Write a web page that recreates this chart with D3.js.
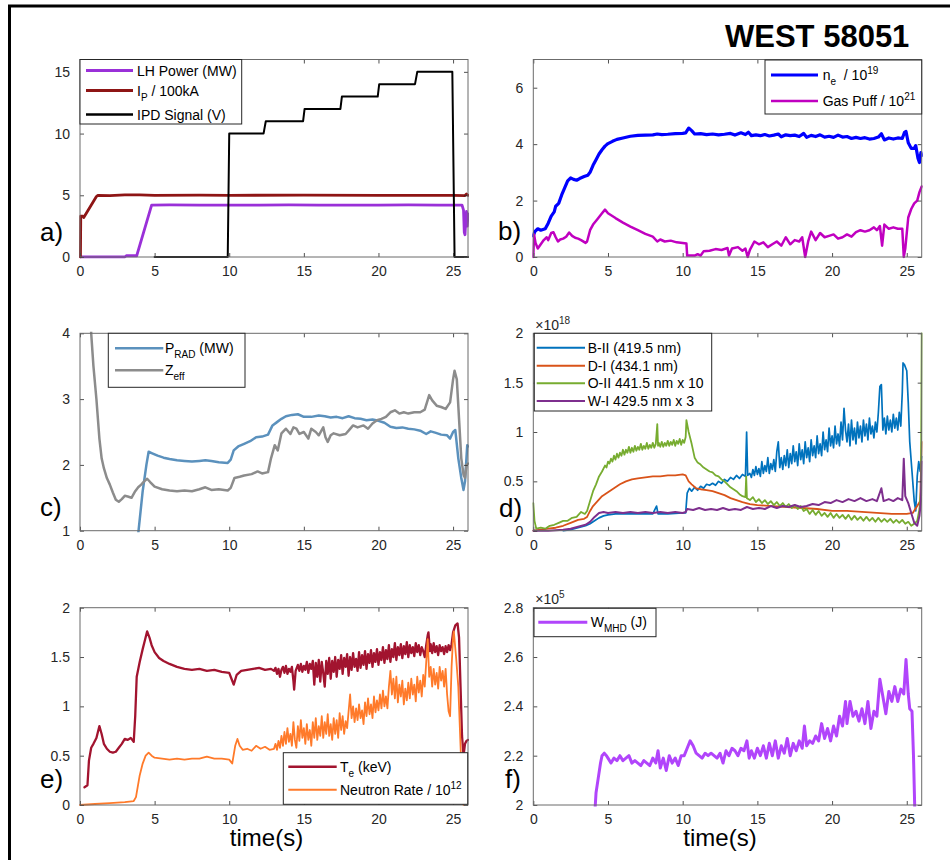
<!DOCTYPE html>
<html><head><meta charset="utf-8">
<script src="https://cdn.jsdelivr.net/npm/d3@7"></script>
<style>
body{margin:0;background:#fff}
svg{display:block}
text{font-family:"Liberation Sans",Arial,sans-serif;white-space:pre}
</style>
</head><body>
<svg id="c" width="950" height="860"></svg>
<script>
// ---------------- DATA (time s, value) ----------------
const timeTicks = [0,5,10,15,20,25];

// a) LH power (MW), Ip/100kA, IPD signal (V)
const lhPower = [[0.05,0],[3.0,0],[3.1,0.1],[3.8,0.1],[4.8,4.2],[6,4.22],[8,4.2],[10,4.21],[12,4.2],[14,4.22],[16,4.2],[18,4.21],[20,4.2],[22,4.22],[24,4.2],[25.6,4.2],[25.7,3.8],[25.75,2.0],[25.8,1.8],[25.85,3.0],[25.9,3.7],[25.95,2.5],[26.0,3.5]];
const ipCurrent = [[0.03,0],[0.05,3.3],[0.2,3.3],[0.25,3.2],[1.1,4.9],[1.2,5.0],[2,4.98],[3,5.03],[4,5.04],[5,5.0],[8,5.02],[10,5.0],[15,5.01],[20,5.0],[25,5.0],[25.8,4.98],[25.9,5.1],[26,5.0]];
const ipdSignal = [[5.0,0],[9.9,0],[10.0,10],[12.3,10],[12.45,11],[14.95,11],[15.05,12],[17.45,12],[17.55,13],[19.95,13],[20.05,14],[22.45,14],[22.6,15],[24.95,15],[25.1,0],[26,0]];

// b) ne/1e19, gas puff/1e21
const neDensity = [[0,0.75],[0.1,0.9],[0.3,1.0],[0.5,0.95],[0.8,1.0],[1.0,1.2],[1.2,1.45],[1.4,1.6],[1.5,1.8],[1.7,1.9],[1.9,2.2],[2.1,2.45],[2.3,2.7],[2.5,2.8],[2.7,2.75],[2.9,2.72],[3.1,2.78],[3.4,2.85],[3.65,2.9],[3.8,3.0],[4.0,3.25],[4.2,3.45],[4.4,3.65],[4.6,3.8],[4.8,3.93],[5.0,4.02],[5.3,4.1],[5.6,4.17],[6.0,4.22],[6.5,4.28],[7.0,4.31],[7.5,4.32],[8.0,4.33],[8.3,4.36],[8.6,4.34],[9.0,4.35],[9.5,4.37],[10.0,4.38],[10.2,4.4],[10.4,4.57],[10.6,4.48],[10.8,4.36],[11.2,4.37],[11.6,4.34],[12.0,4.36],[12.4,4.33],[12.8,4.35],[13.2,4.38],[13.5,4.32],[13.9,4.4],[14.2,4.34],[14.4,4.42],[14.6,4.3],[14.9,4.33],[15.2,4.3],[15.5,4.34],[15.8,4.29],[16.1,4.32],[16.4,4.36],[16.6,4.26],[16.9,4.33],[17.2,4.3],[17.5,4.32],[17.8,4.27],[18.1,4.38],[18.3,4.24],[18.6,4.31],[18.9,4.27],[19.2,4.33],[19.5,4.25],[19.8,4.28],[20.1,4.24],[20.4,4.32],[20.7,4.25],[21.0,4.27],[21.3,4.2],[21.6,4.24],[21.9,4.2],[22.2,4.23],[22.5,4.18],[22.8,4.2],[23.1,4.25],[23.3,4.37],[23.5,4.15],[23.8,4.22],[24.1,4.18],[24.4,4.22],[24.7,4.2],[24.85,4.42],[24.95,4.45],[25.1,4.05],[25.3,3.85],[25.5,3.85],[25.6,3.95],[25.75,3.5],[25.85,3.35],[25.95,3.7],[26,3.6]];
const gasPuff = [[0,0],[0.05,0.8],[0.15,0.5],[0.3,0.3],[0.5,0.45],[0.7,0.6],[0.9,0.7],[1.0,0.6],[1.2,0.85],[1.35,0.88],[1.5,0.7],[1.65,0.55],[1.8,0.62],[2.0,0.65],[2.2,0.72],[2.4,0.87],[2.6,0.75],[2.8,0.68],[3.0,0.65],[3.2,0.6],[3.5,0.5],[3.6,0.55],[3.8,0.95],[4.0,1.15],[4.3,1.35],[4.6,1.55],[4.8,1.68],[5.0,1.55],[5.5,1.38],[6.0,1.22],[6.5,1.08],[7.0,0.95],[7.5,0.82],[8.0,0.72],[8.3,0.55],[8.5,0.62],[8.8,0.55],[9.2,0.58],[9.6,0.52],[10.0,0.5],[10.25,0.48],[10.3,0.05],[10.8,0.05],[11.0,0.1],[11.2,0.05],[11.4,0.2],[11.8,0.22],[12.2,0.28],[12.6,0.25],[13.0,0.32],[13.1,0.05],[13.3,0.3],[13.7,0.35],[14.0,0.22],[14.2,0.3],[14.35,0.0],[14.5,0.25],[14.8,0.55],[15.1,0.45],[15.4,0.52],[15.7,0.35],[16.0,0.45],[16.3,0.55],[16.6,0.4],[16.9,0.7],[17.2,0.45],[17.5,0.6],[17.8,0.55],[18.0,0.7],[18.2,0.0],[18.4,0.55],[18.6,0.9],[18.9,0.6],[19.2,0.85],[19.5,0.7],[19.8,0.75],[20.1,0.8],[20.4,0.65],[20.7,0.7],[21.0,0.8],[21.3,0.72],[21.6,0.88],[21.9,0.95],[22.2,0.9],[22.5,0.95],[22.8,1.05],[23.0,0.95],[23.2,1.1],[23.35,0.4],[23.5,1.15],[23.8,1.0],[24.1,1.05],[24.4,1.0],[24.7,1.0],[24.8,0.0],[24.9,0.3],[25.1,1.4],[25.3,1.7],[25.5,1.9],[25.7,2.0],[25.85,2.3],[26,2.5]];

// c) Prad (MW), Zeff
const pRad = [[3.9,0.95],[4.2,1.6],[4.45,2.0],[4.6,2.2],[4.8,2.18],[5.2,2.14],[5.6,2.11],[6.0,2.09],[6.5,2.07],[7.0,2.06],[7.5,2.05],[8.0,2.06],[8.4,2.07],[8.8,2.06],[9.3,2.04],[9.9,2.03],[10.1,2.08],[10.3,2.22],[10.6,2.28],[11.0,2.32],[11.4,2.36],[11.8,2.42],[12.2,2.43],[12.6,2.46],[12.9,2.6],[13.2,2.65],[13.5,2.7],[13.8,2.74],[14.2,2.76],[14.6,2.77],[15.0,2.73],[15.5,2.73],[16.0,2.75],[16.4,2.74],[16.8,2.72],[17.2,2.73],[17.6,2.71],[18.0,2.74],[18.4,2.71],[18.8,2.7],[19.2,2.68],[19.6,2.69],[20.0,2.67],[20.4,2.64],[20.8,2.58],[21.2,2.56],[21.6,2.57],[22.0,2.55],[22.4,2.54],[22.8,2.52],[23.2,2.47],[23.5,2.51],[23.8,2.49],[24.2,2.46],[24.6,2.45],[24.8,2.4],[25.0,2.5],[25.15,2.53],[25.35,2.1],[25.55,1.8],[25.7,1.62],[25.8,1.75],[25.95,2.3],[26,2.28]];
const zEff = [[0.45,6],[0.75,4.0],[0.9,3.5],[1.1,3.0],[1.3,2.4],[1.45,2.1],[1.6,1.95],[1.8,1.8],[2.0,1.7],[2.2,1.58],[2.4,1.47],[2.6,1.44],[2.8,1.48],[3.0,1.53],[3.2,1.52],[3.45,1.5],[3.7,1.6],[3.9,1.66],[4.1,1.7],[4.3,1.75],[4.5,1.79],[4.7,1.74],[5.0,1.67],[5.5,1.63],[6.0,1.61],[6.5,1.6],[7.0,1.61],[7.5,1.6],[8.0,1.63],[8.4,1.66],[8.8,1.62],[9.3,1.63],[9.9,1.61],[10.1,1.65],[10.35,1.8],[10.7,1.82],[11.0,1.84],[11.5,1.86],[11.9,1.9],[12.2,1.87],[12.6,1.89],[12.8,2.1],[13.05,2.3],[13.25,2.22],[13.5,2.48],[13.8,2.55],[14.1,2.47],[14.3,2.57],[14.5,2.55],[14.7,2.47],[15.0,2.5],[15.3,2.4],[15.5,2.55],[15.8,2.5],[16.0,2.45],[16.3,2.57],[16.45,2.42],[16.6,2.35],[16.8,2.45],[17.0,2.48],[17.4,2.45],[17.8,2.47],[18.0,2.52],[18.3,2.6],[18.6,2.57],[19.0,2.6],[19.3,2.55],[19.6,2.63],[19.9,2.68],[20.2,2.7],[20.5,2.73],[20.8,2.8],[21.1,2.83],[21.4,2.78],[21.7,2.8],[22.0,2.78],[22.4,2.8],[22.8,2.8],[23.1,2.84],[23.4,3.06],[23.6,2.98],[23.9,2.9],[24.2,2.88],[24.5,2.85],[24.8,2.95],[25.0,3.3],[25.1,3.43],[25.25,3.3],[25.4,2.7],[25.55,2.1],[25.7,1.85],[25.8,1.8],[25.9,2.0],[26,2.02]];

// d) spectroscopy lines (x1e18)
const bII = [[2.0,0.0],[2.5,0.01],[3.0,0.03],[3.5,0.05],[3.8,0.07],[4.1,0.1],[4.4,0.13],[4.7,0.15],[5.0,0.16],[5.5,0.17],[6.0,0.17],[7.0,0.17],[8.0,0.17],[8.25,0.25],[8.35,0.17],[9.0,0.17],[10.0,0.18],[10.2,0.18],[10.3,0.38],[10.45,0.43],[10.6,0.4],[10.8,0.44],[11.0,0.41],[11.2,0.45],[11.4,0.43],[11.6,0.47],[11.8,0.46],[12.0,0.48],[12.2,0.46],[12.4,0.5],[12.6,0.48],[12.8,0.52],[13.0,0.5],[13.2,0.54],[13.4,0.52],[13.6,0.56],[13.8,0.53],[14.0,0.57],[14.2,0.55],[14.28,1.0],[14.35,0.56],
  [14.5,0.58],[14.6,0.54],[14.7,0.62],[14.8,0.56],[14.9,0.65],[15.0,0.57],[15.1,0.63],[15.2,0.55],[15.3,0.70],[15.4,0.58],[15.5,0.66],[15.6,0.60],[15.7,0.74],[15.8,0.58],[15.9,0.68],[16.0,0.62],[16.1,0.72],[16.2,0.60],[16.3,0.80],[16.4,0.90],[16.5,0.64],[16.6,0.74],[16.7,0.62],[16.8,0.76],[16.9,0.66],[17.0,0.82],[17.1,0.64],[17.2,0.78],[17.3,0.68],[17.4,0.86],[17.5,0.70],[17.6,0.80],[17.7,0.66],[17.8,0.88],[17.9,0.72],[18.0,0.82],[18.1,0.68],[18.2,0.90],[18.3,0.74],[18.4,0.84],[18.5,0.70],[18.6,0.92],[18.7,0.76],[18.8,0.86],[18.9,0.74],[19.0,0.96],[19.1,0.78],[19.2,0.88],[19.3,0.76],[19.4,1.00],[19.5,0.82],[19.6,0.92],[19.7,0.80],[19.8,1.04],[19.9,0.86],[20.0,0.96],[20.1,0.84],[20.2,1.06],[20.3,0.88],[20.4,0.98],[20.5,0.86],[20.6,1.10],[20.7,0.92],[20.8,1.24],[20.9,1.02],[21.0,0.90],[21.1,1.08],[21.2,0.86],[21.3,1.12],[21.4,0.92],[21.5,1.04],[21.6,0.88],[21.7,1.10],[21.8,0.94],[21.9,1.06],[22.0,0.90],[22.1,1.12],[22.2,0.96],[22.3,1.08],[22.4,0.92],[22.5,1.14],[22.6,0.98],[22.7,1.06],[22.8,0.94],[22.9,1.10],[23.0,1.00],[23.1,1.20],[23.2,1.46],[23.3,1.48],[23.4,1.02],[23.5,1.14],[23.6,0.98],[23.7,1.16],[23.8,1.02],[23.9,1.12],[24.0,1.00],[24.1,1.18],[24.2,1.04],[24.3,1.14],[24.4,1.02],[24.5,1.20],[24.6,1.06],[24.7,1.40],[24.75,1.7],[24.85,1.68],[25.0,1.62],[25.1,1.3],[25.2,0.9],[25.35,0.6],[25.5,0.3],[25.6,0.2],[25.7,0.55],[25.8,0.7],[25.9,0.6],[26.0,0.75]];
const dI = [[0,0.0],[0.5,0.01],[1.0,0.02],[1.5,0.03],[2.0,0.05],[2.5,0.08],[3.0,0.11],[3.4,0.12],[3.6,0.14],[3.8,0.2],[4.0,0.25],[4.3,0.3],[4.6,0.35],[5.0,0.39],[5.4,0.43],[5.8,0.47],[6.2,0.5],[6.6,0.52],[7.0,0.53],[7.5,0.54],[8.0,0.55],[8.5,0.55],[9.0,0.56],[9.5,0.56],[10.0,0.57],[10.2,0.56],[10.4,0.5],[10.6,0.47],[10.9,0.43],[11.2,0.42],[11.6,0.41],[12.0,0.4],[12.4,0.38],[12.8,0.36],[13.2,0.33],[13.6,0.31],[14.0,0.29],[14.5,0.27],[15.0,0.26],[16.0,0.25],[17.0,0.24],[18.0,0.23],[19.0,0.22],[20.0,0.2],[21.0,0.2],[22.0,0.19],[23.0,0.18],[24.0,0.17],[25.0,0.17],[25.4,0.18],[25.7,0.25],[25.9,0.3],[26.0,0.9]];
const oII = [[0,0.28],[0.08,0.1],[0.2,0.02],[0.5,0.03],[0.8,0.02],[1.1,0.05],[1.4,0.06],[1.7,0.08],[2.0,0.1],[2.3,0.1],[2.6,0.13],[2.9,0.14],[3.2,0.19],[3.45,0.17],[3.6,0.2],[3.8,0.3],[4.0,0.4],[4.2,0.47],[4.4,0.55],[4.6,0.6],
  [4.8,0.66],[4.9,0.64],[5.0,0.70],[5.1,0.68],[5.2,0.73],[5.3,0.70],[5.4,0.76],[5.5,0.72],[5.6,0.78],[5.7,0.74],[5.8,0.79],[5.9,0.76],[6.0,0.82],[6.1,0.77],[6.2,0.82],[6.3,0.79],[6.4,0.85],[6.5,0.79],[6.6,0.84],[6.7,0.80],[6.8,0.86],[6.9,0.81],[7.0,0.85],[7.1,0.82],[7.2,0.88],[7.3,0.82],[7.4,0.86],[7.5,0.83],[7.6,0.89],[7.7,0.83],[7.8,0.87],[7.9,0.84],[8.0,0.89],[8.1,0.84],[8.2,0.88],[8.3,1.08],[8.35,0.86],[8.4,0.89],[8.5,0.85],[8.6,0.90],[8.7,0.85],[8.8,0.89],[8.9,0.86],[9.0,0.91],[9.1,0.86],[9.2,0.90],[9.3,0.87],[9.4,0.92],[9.5,0.86],[9.6,0.91],[9.7,0.88],[9.8,0.93],[9.9,0.87],[10.0,0.92],[10.1,0.89],[10.2,0.95],[10.25,1.12],[10.4,1.0],[10.6,0.88],[10.8,0.74],[11.0,0.69],[11.2,0.67],[11.4,0.64],[11.6,0.62],[11.8,0.6],[12.0,0.59],[12.2,0.56],[12.4,0.55],[12.6,0.52],[12.8,0.5],[13.0,0.47],[13.2,0.44],[13.4,0.42],[13.6,0.4],[13.8,0.37],[14.0,0.35],[14.2,0.34],[14.25,0.55],[14.3,0.33],
  [14.5,0.31],[14.7,0.34],[14.9,0.29],[15.1,0.32],[15.3,0.28],[15.5,0.31],[15.7,0.27],[15.9,0.3],[16.1,0.26],[16.3,0.29],[16.5,0.25],[16.7,0.28],[16.9,0.24],[17.1,0.27],[17.3,0.23],[17.5,0.26],[17.7,0.22],[17.9,0.25],[18.1,0.2],[18.3,0.22],[18.5,0.17],[18.7,0.21],[18.9,0.16],[19.1,0.2],[19.3,0.15],[19.5,0.18],[19.7,0.14],[19.9,0.18],[20.1,0.13],[20.3,0.17],[20.5,0.13],[20.7,0.16],[20.9,0.12],[21.1,0.16],[21.3,0.11],[21.5,0.15],[21.7,0.11],[21.9,0.14],[22.1,0.1],[22.3,0.14],[22.5,0.1],[22.7,0.13],[22.9,0.09],[23.1,0.13],[23.3,0.09],[23.5,0.12],[23.7,0.09],[23.9,0.12],[24.1,0.08],[24.3,0.11],[24.5,0.08],[24.7,0.11],[24.9,0.07],[25.1,0.09],[25.3,0.05],[25.5,0.07],[25.7,0.1],[25.85,0.22],[25.95,0.4],[26.0,2.0]];
const wI = [[0,0.0],[1,0.0],[2,0.01],[2.5,0.02],[3.0,0.04],[3.5,0.06],[3.8,0.09],[4.1,0.14],[4.4,0.18],[4.7,0.19],[5.0,0.18],[5.5,0.19],[6.0,0.18],[6.5,0.19],[7.0,0.18],[7.5,0.19],[8.0,0.18],[8.5,0.19],[9.0,0.18],[9.5,0.19],[10.0,0.18],[10.2,0.19],[10.3,0.22],[10.7,0.21],[11.1,0.23],[11.5,0.21],[11.9,0.22],[12.3,0.21],[12.7,0.23],[13.1,0.21],[13.5,0.22],[13.9,0.21],[14.3,0.24],[14.7,0.22],[15.1,0.23],[15.5,0.22],[15.9,0.25],[16.3,0.23],[16.7,0.25],[17.1,0.24],[17.5,0.26],[17.9,0.24],[18.3,0.25],[18.7,0.27],[19.1,0.26],[19.5,0.29],[19.9,0.28],[20.3,0.31],[20.7,0.29],[21.1,0.32],[21.5,0.3],[21.9,0.33],[22.3,0.3],[22.7,0.32],[23.0,0.3],[23.3,0.43],[23.45,0.3],[23.8,0.32],[24.1,0.3],[24.4,0.33],[24.7,0.31],[24.8,0.73],[24.9,0.35],[25.1,0.28],[25.3,0.18],[25.5,0.08],[25.7,0.05],[25.85,0.15],[25.95,0.3],[26.0,0.7]];

// e) Te (keV), neutron rate / 1e12
const teKeV = [[0.3,0.18],[0.5,0.2],[0.6,0.45],[0.75,0.58],[0.9,0.62],[1.1,0.68],[1.3,0.8],[1.45,0.72],[1.6,0.62],[1.8,0.57],[2.0,0.54],[2.2,0.53],[2.4,0.54],[2.6,0.58],[2.8,0.62],[3.0,0.67],[3.2,0.66],[3.4,0.68],[3.6,0.64],[3.7,0.9],[3.8,1.3],[4.0,1.45],[4.2,1.58],[4.35,1.67],[4.5,1.76],[4.65,1.7],[4.8,1.62],[5.0,1.55],[5.3,1.49],[5.6,1.46],[6.0,1.43],[6.5,1.4],[7.0,1.38],[7.5,1.37],[8.0,1.38],[8.5,1.36],[9.0,1.37],[9.5,1.35],[10.0,1.34],[10.15,1.28],[10.3,1.22],[10.5,1.32],[10.8,1.36],[11.2,1.37],[11.6,1.38],[12.0,1.39],[12.4,1.37],[12.8,1.38],
  [13.0,1.36],[13.1,1.39],[13.2,1.33],[13.3,1.38],[13.4,1.30],[13.5,1.37],[13.6,1.40],[13.7,1.34],[13.8,1.41],[13.9,1.33],[14.0,1.38],[14.1,1.35],[14.2,1.40],[14.3,1.26],[14.35,1.17],[14.45,1.36],[14.6,1.42],[14.7,1.36],[14.8,1.43],[14.9,1.35],[15.0,1.41],[15.1,1.37],[15.2,1.45],[15.3,1.34],[15.4,1.43],[15.5,1.38],[15.6,1.46],[15.7,1.22],[15.8,1.44],[15.9,1.30],[16.0,1.47],[16.1,1.25],[16.2,1.45],[16.3,1.34],[16.4,1.20],[16.5,1.46],[16.6,1.33],[16.7,1.49],[16.8,1.28],[16.9,1.46],[17.0,1.35],[17.1,1.50],[17.2,1.30],[17.3,1.47],[17.4,1.38],[17.5,1.52],[17.6,1.33],[17.7,1.49],[17.8,1.40],[17.9,1.53],[18.0,1.31],[18.1,1.50],[18.2,1.37],[18.3,1.54],[18.4,1.40],[18.5,1.48],[18.6,1.36],[18.7,1.55],[18.8,1.39],[18.9,1.52],[19.0,1.42],[19.1,1.56],[19.2,1.38],[19.3,1.53],[19.4,1.44],[19.5,1.57],[19.6,1.40],[19.7,1.54],[19.8,1.45],[19.9,1.58],[20.0,1.42],[20.1,1.55],[20.2,1.47],[20.3,1.60],[20.4,1.44],[20.5,1.57],[20.6,1.48],[20.7,1.62],[20.8,1.45],[20.9,1.58],[21.0,1.50],[21.1,1.64],[21.2,1.47],[21.3,1.60],[21.4,1.52],[21.5,1.63],[21.6,1.49],[21.7,1.61],[21.8,1.53],[21.9,1.65],[22.0,1.50],[22.1,1.62],[22.2,1.54],[22.3,1.60],[22.4,1.51],[22.5,1.64],[22.6,1.55],[22.7,1.62],[22.8,1.52],[22.9,1.60],[23.0,1.56],[23.1,1.50],[23.2,1.62],[23.3,1.72],[23.35,1.75],[23.45,1.56],[23.5,1.63],[23.6,1.54],[23.7,1.64],[23.8,1.55],[23.9,1.61],[24.0,1.52],[24.1,1.62],[24.2,1.56],[24.3,1.60],[24.4,1.53],[24.5,1.61],[24.6,1.55],[24.7,1.62],[24.8,1.57],[24.9,1.63],[25.0,1.75],[25.15,1.82],[25.3,1.84],[25.4,1.7],[25.5,1.2],[25.6,0.7],[25.7,0.5],[25.8,0.62],[25.9,0.65],[26.0,0.66]];
const neutronRate = [[0,0.0],[1.0,0.01],[2.0,0.02],[3.0,0.03],[3.6,0.04],[3.75,0.08],[4.0,0.3],[4.2,0.42],[4.4,0.5],[4.6,0.53],[4.8,0.5],[5.0,0.48],[5.5,0.47],[6.0,0.46],[6.5,0.47],[7.0,0.46],[7.5,0.47],[8.0,0.47],[8.5,0.49],[9.0,0.47],[9.5,0.47],[10.0,0.46],[10.2,0.42],[10.4,0.6],[10.55,0.67],[10.7,0.6],[10.9,0.56],[11.2,0.57],[11.5,0.55],[11.8,0.6],[12.1,0.57],[12.4,0.59],[12.7,0.56],
  [13.0,0.57],[13.1,0.62],[13.2,0.56],[13.3,0.65],[13.4,0.58],[13.5,0.70],[13.6,0.60],[13.7,0.74],[13.8,0.62],[13.9,0.78],[14.0,0.64],[14.1,0.72],[14.2,0.60],[14.3,0.84],[14.4,0.66],[14.5,0.58],[14.6,0.80],[14.7,0.65],[14.8,0.86],[14.9,0.68],[15.0,0.78],[15.1,0.62],[15.2,0.82],[15.3,0.66],[15.4,0.76],[15.5,0.60],[15.6,0.84],[15.7,0.68],[15.8,0.88],[15.9,0.66],[16.0,0.80],[16.1,0.70],[16.2,0.90],[16.3,0.68],[16.4,0.84],[16.5,0.72],[16.6,0.92],[16.7,0.70],[16.8,0.82],[16.9,0.66],[17.0,0.88],[17.1,0.72],[17.2,0.86],[17.3,0.68],[17.4,0.93],[17.5,0.76],[17.6,0.90],[17.7,0.72],[17.8,0.85],[17.9,0.78],[18.0,0.95],[18.1,1.12],[18.2,0.88],[18.3,1.00],[18.4,0.84],[18.5,0.98],[18.6,0.86],[18.7,1.02],[18.8,0.88],[18.9,0.96],[19.0,0.82],[19.1,1.04],[19.2,0.90],[19.3,1.08],[19.4,0.92],[19.5,1.02],[19.6,0.88],[19.7,1.10],[19.8,0.94],[19.9,1.06],[20.0,0.96],[20.1,1.12],[20.2,0.98],[20.3,1.16],[20.4,1.00],[20.5,1.10],[20.6,0.98],[20.7,1.20],[20.8,1.36],[20.9,1.12],[21.0,1.28],[21.1,1.08],[21.2,1.30],[21.3,1.04],[21.4,1.22],[21.5,1.10],[21.6,1.26],[21.7,1.02],[21.8,1.18],[21.9,1.06],[22.0,1.24],[22.1,1.08],[22.2,1.28],[22.3,1.12],[22.4,1.22],[22.5,1.05],[22.6,1.30],[22.7,1.14],[22.8,1.26],[22.9,1.10],[23.0,1.32],[23.1,1.20],[23.2,1.45],[23.3,1.68],[23.4,1.30],[23.5,1.40],[23.6,1.20],[23.7,1.38],[23.8,1.22],[23.9,1.34],[24.0,1.18],[24.1,1.40],[24.2,1.26],[24.3,1.36],[24.4,1.20],[24.5,1.38],[24.6,1.12],[24.7,0.95],[24.8,0.90],[24.9,1.40],[25.0,1.70],[25.05,1.76],[25.2,1.5],[25.35,1.2],[25.5,0.6],[25.6,0.2],[25.7,0.0]];

// f) W_MHD (x1e5 J)
const wMHD = [[4.1,1.95],[4.2,2.05],[4.35,2.11],[4.5,2.17],[4.6,2.2],[4.75,2.21],[4.9,2.2],[5.0,2.19],[5.2,2.17],[5.4,2.19],[5.6,2.18],[5.8,2.2],[6.0,2.18],[6.2,2.19],[6.4,2.2],[6.6,2.17],[6.8,2.18],[7.0,2.17],[7.2,2.16],[7.4,2.18],[7.6,2.17],[7.8,2.16],[8.0,2.19],[8.2,2.17],[8.35,2.22],[8.5,2.15],[8.7,2.19],[8.9,2.14],[9.1,2.2],[9.3,2.17],[9.5,2.19],[9.7,2.16],[9.9,2.2],[10.1,2.2],[10.3,2.23],[10.5,2.26],[10.7,2.24],[10.9,2.21],[11.1,2.2],[11.3,2.19],[11.5,2.21],[11.7,2.2],[11.9,2.21],[12.1,2.2],[12.3,2.19],[12.5,2.21],[12.7,2.17],[12.9,2.22],[13.1,2.2],[13.3,2.23],[13.5,2.22],[13.7,2.2],[13.9,2.23],[14.1,2.22],[14.3,2.26],[14.45,2.19],[14.6,2.22],[14.8,2.19],[15.0,2.23],[15.2,2.2],[15.4,2.24],[15.6,2.19],[15.8,2.25],[16.0,2.2],[16.2,2.26],[16.4,2.19],[16.6,2.24],[16.8,2.21],[17.0,2.27],[17.2,2.2],[17.4,2.25],[17.6,2.22],[17.8,2.26],[18.0,2.23],[18.15,2.32],[18.3,2.24],[18.5,2.26],[18.7,2.25],[18.9,2.28],[19.1,2.26],[19.3,2.33],[19.5,2.27],[19.7,2.31],[19.9,2.26],[20.1,2.32],[20.3,2.28],[20.5,2.36],[20.7,2.32],[20.9,2.42],[21.0,2.33],[21.2,2.42],[21.4,2.36],[21.6,2.38],[21.8,2.34],[22.0,2.39],[22.2,2.33],[22.4,2.42],[22.6,2.31],[22.8,2.38],[23.0,2.36],[23.2,2.51],[23.4,2.44],[23.6,2.37],[23.8,2.46],[24.0,2.42],[24.2,2.48],[24.4,2.42],[24.6,2.47],[24.8,2.45],[24.95,2.59],[25.1,2.45],[25.2,2.39],[25.35,2.38],[25.45,2.2],[25.55,1.95]];

// ---------------- LAYOUT ----------------
const svg = d3.select('#c');
const COLS = [[80, 468], [533.3, 921.7]];
const ROWS = [[59.5, 257], [333.3, 530.7], [607.7, 805]];
const AXIS_COLOR = '#262626';
const FONT = 14;

function richText(g, x, y, parts, size, fill) {
  const t = g.append('text').attr('x', x).attr('y', y).attr('font-size', size).attr('fill', fill || '#000');
  let shift = 0;
  parts.forEach(p => {
    const str = typeof p === 'string' ? p : p[0];
    const kind = typeof p === 'string' ? 'n' : p[1];
    const target = kind === 'sub' ? 5 : kind === 'sup' ? -6 : 0;
    const fs = kind === 'n' ? size : Math.round(size * 0.72);
    t.append('tspan').attr('dy', target - shift).attr('font-size', fs).text(str);
    shift = target;
  });
  return t;
}

const panels = [
  { col:0, row:0, yDomain:[0,16], yTicks:[0,5,10,15], label:'a)', labelPos:[40,240.5],
    series:[{d:lhPower,c:'#9a30d8',w:2.8},{d:ipCurrent,c:'#8e1515',w:2.8},{d:ipdSignal,c:'#000000',w:2}],
    legend:{x:80,y:59.5,w:161.7,h:64.5,l0:86,l1:133,tx:137,rows:[11,31,55],
      items:[{c:'#9a30d8',w:3,t:['LH Power (MW)']},{c:'#8e1515',w:3,t:['I',['P','sub'],' / 100kA']},{c:'#000',w:2.5,t:['IPD Signal (V)']}]}},
  { col:1, row:0, yDomain:[0,7], yTicks:[0,2,4,6], label:'b)', labelPos:[498,240],
    series:[{d:neDensity,c:'#0000ff',w:3.2},{d:gasPuff,c:'#c000c0',w:2.5}],
    legend:{x:765,y:60,w:156.7,h:54,l0:771,l1:818,tx:822.7,rows:[15,41],
      items:[{c:'#0000ff',w:3.2,t:['n',['e','sub'],'  / 10',['19','sup']]},{c:'#c000c0',w:2.5,t:['Gas Puff / 10',['21','sup']]}]}},
  { col:0, row:1, yDomain:[1,4], yTicks:[1,2,3,4], label:'c)', labelPos:[40,516],
    series:[{d:pRad,c:'#5b91bd',w:2.5},{d:zEff,c:'#8c8c8c',w:2.5}],
    legend:{x:108.3,y:333.3,w:136.7,h:54,l0:115,l1:163.3,tx:165,rows:[15,37],
      items:[{c:'#5b91bd',w:2.5,t:['P',['RAD','sub'],' (MW)']},{c:'#8c8c8c',w:2.5,t:['Z',['eff','sub']]}]}},
  { col:1, row:1, yDomain:[0,2], yTicks:[0,0.5,1,1.5,2], label:'d)', labelPos:[499,516.5], exp:'18',
    series:[{d:bII,c:'#0072bd',w:1.7},{d:dI,c:'#d95319',w:1.8},{d:oII,c:'#77ac30',w:1.8},{d:wI,c:'#7e2f8e',w:2}],
    legend:{x:534.3,y:333.3,w:177.4,h:77.7,l0:536.7,l1:585,tx:587.7,rows:[14.4,32.4,50,67.7],
      items:[{c:'#0072bd',w:2,t:['B-II (419.5 nm)']},{c:'#d95319',w:2,t:['D-I (434.1 nm)']},{c:'#77ac30',w:2,t:['O-II 441.5 nm x 10']},{c:'#7e2f8e',w:2,t:['W-I 429.5 nm x 3']}]}},
  { col:0, row:2, yDomain:[0,2], yTicks:[0,0.5,1,1.5,2], label:'e)', labelPos:[40,788], xlabel:true,
    series:[{d:teKeV,c:'#a2142f',w:2.3},{d:neutronRate,c:'#ff7a2a',w:1.8}],
    legend:{x:283.3,y:752.7,w:184.4,h:51.6,l0:288.3,l1:336.7,tx:340,rows:[14,37],
      items:[{c:'#a2142f',w:2.5,t:['T',['e','sub'],' (keV)']},{c:'#ff7a2a',w:2,t:['Neutron Rate / 10',['12','sup']]}]}},
  { col:1, row:2, yDomain:[2,2.8], yTicks:[2,2.2,2.4,2.6,2.8], label:'f)', labelPos:[505,788], exp:'5', xlabel:true,
    series:[{d:wMHD,c:'#b145fb',w:3}],
    legend:{x:534,y:608.3,w:122,h:28.4,l0:538.3,l1:587.3,tx:590.7,rows:[14],
      items:[{c:'#b145fb',w:3,t:['W',['MHD','sub'],' (J)']}]}}
];

panels.forEach((p, i) => {
  const [x0, x1] = COLS[p.col];
  const [y0, y1] = ROWS[p.row];
  const x = d3.scaleLinear().domain([0, 26]).range([x0, x1]);
  const y = d3.scaleLinear().domain(p.yDomain).range([y1, y0]);
  const g = svg.append('g');

  const cid = 'clip' + i;
  svg.append('clipPath').attr('id', cid).append('rect')
    .attr('x', x0 - 1).attr('y', y0 - 1.5).attr('width', x1 - x0 + 2).attr('height', y1 - y0 + 3);

  const fmt = d3.format('~g');
  const bottom = d3.axisBottom(x).tickValues(timeTicks).tickSizeInner(-4).tickSizeOuter(0).tickPadding(9).tickFormat(fmt);
  const top = d3.axisTop(x).tickValues(timeTicks).tickSizeInner(-4).tickSizeOuter(0).tickFormat('');
  const left = d3.axisLeft(y).tickValues(p.yTicks).tickSizeInner(-4).tickSizeOuter(0).tickPadding(10).tickFormat(fmt);
  const right = d3.axisRight(y).tickValues(p.yTicks).tickSizeInner(-4).tickSizeOuter(0).tickFormat('');

  const data = g.append('g').attr('clip-path', `url(#${cid})`);
  const line = d3.line().x(d => x(d[0])).y(d => y(d[1]));
  p.series.forEach(s => {
    data.append('path').attr('d', line(s.d)).attr('fill', 'none')
      .attr('stroke', s.c).attr('stroke-width', s.w)
      .attr('stroke-linejoin', 'round').attr('stroke-linecap', 'round');
  });

  const axes = [
    g.append('g').attr('transform', `translate(0,${y1})`).call(bottom),
    g.append('g').attr('transform', `translate(0,${y0})`).call(top),
    g.append('g').attr('transform', `translate(${x0},0)`).call(left),
    g.append('g').attr('transform', `translate(${x1},0)`).call(right)
  ];
  axes.forEach(a => {
    a.select('.domain').remove();
    a.selectAll('line').attr('stroke', AXIS_COLOR).attr('stroke-width', 0.8);
    a.selectAll('text').attr('font-size', FONT).attr('fill', AXIS_COLOR)
      .attr('font-family', '"Liberation Sans",Arial,sans-serif');
  });
  g.append('rect').attr('x', x0).attr('y', y0).attr('width', x1 - x0).attr('height', y1 - y0)
    .attr('fill', 'none').attr('stroke', '#6b6b6b').attr('stroke-width', 1);

  if (p.exp) {
    richText(g, x0 + 2, y0 - 3.5, ['\u00d710', [p.exp, 'sup']], FONT, AXIS_COLOR);
  }

  const L = p.legend;
  const lg = g.append('g');
  lg.append('rect').attr('x', L.x).attr('y', L.y).attr('width', L.w).attr('height', L.h)
    .attr('fill', '#fff').attr('stroke', '#262626').attr('stroke-width', 1);
  L.items.forEach((it, k) => {
    const ry = L.y + L.rows[k];
    lg.append('line').attr('x1', L.l0).attr('x2', L.l1).attr('y1', ry).attr('y2', ry)
      .attr('stroke', it.c).attr('stroke-width', it.w);
    richText(lg, L.tx, ry + 5, it.t, FONT, '#000');
  });

  g.append('text').attr('x', p.labelPos[0]).attr('y', p.labelPos[1])
    .attr('font-size', 26).attr('fill', '#000').text(p.label);

  if (p.xlabel) {
    g.append('text').attr('x', x(12.5)).attr('y', 846).attr('text-anchor', 'middle')
      .attr('font-size', 24).attr('fill', '#000').text('time(s)');
  }
});

svg.append('text').attr('x', 725).attr('y', 46.5).attr('font-size', 31).attr('font-weight', 'bold')
  .attr('fill', '#000').text('WEST 58051');

svg.append('rect').attr('x', 9.5).attr('y', 6).attr('width', 980).attr('height', 900)
  .attr('fill', 'none').attr('stroke', '#000').attr('stroke-width', 3);
</script>
</body></html>
